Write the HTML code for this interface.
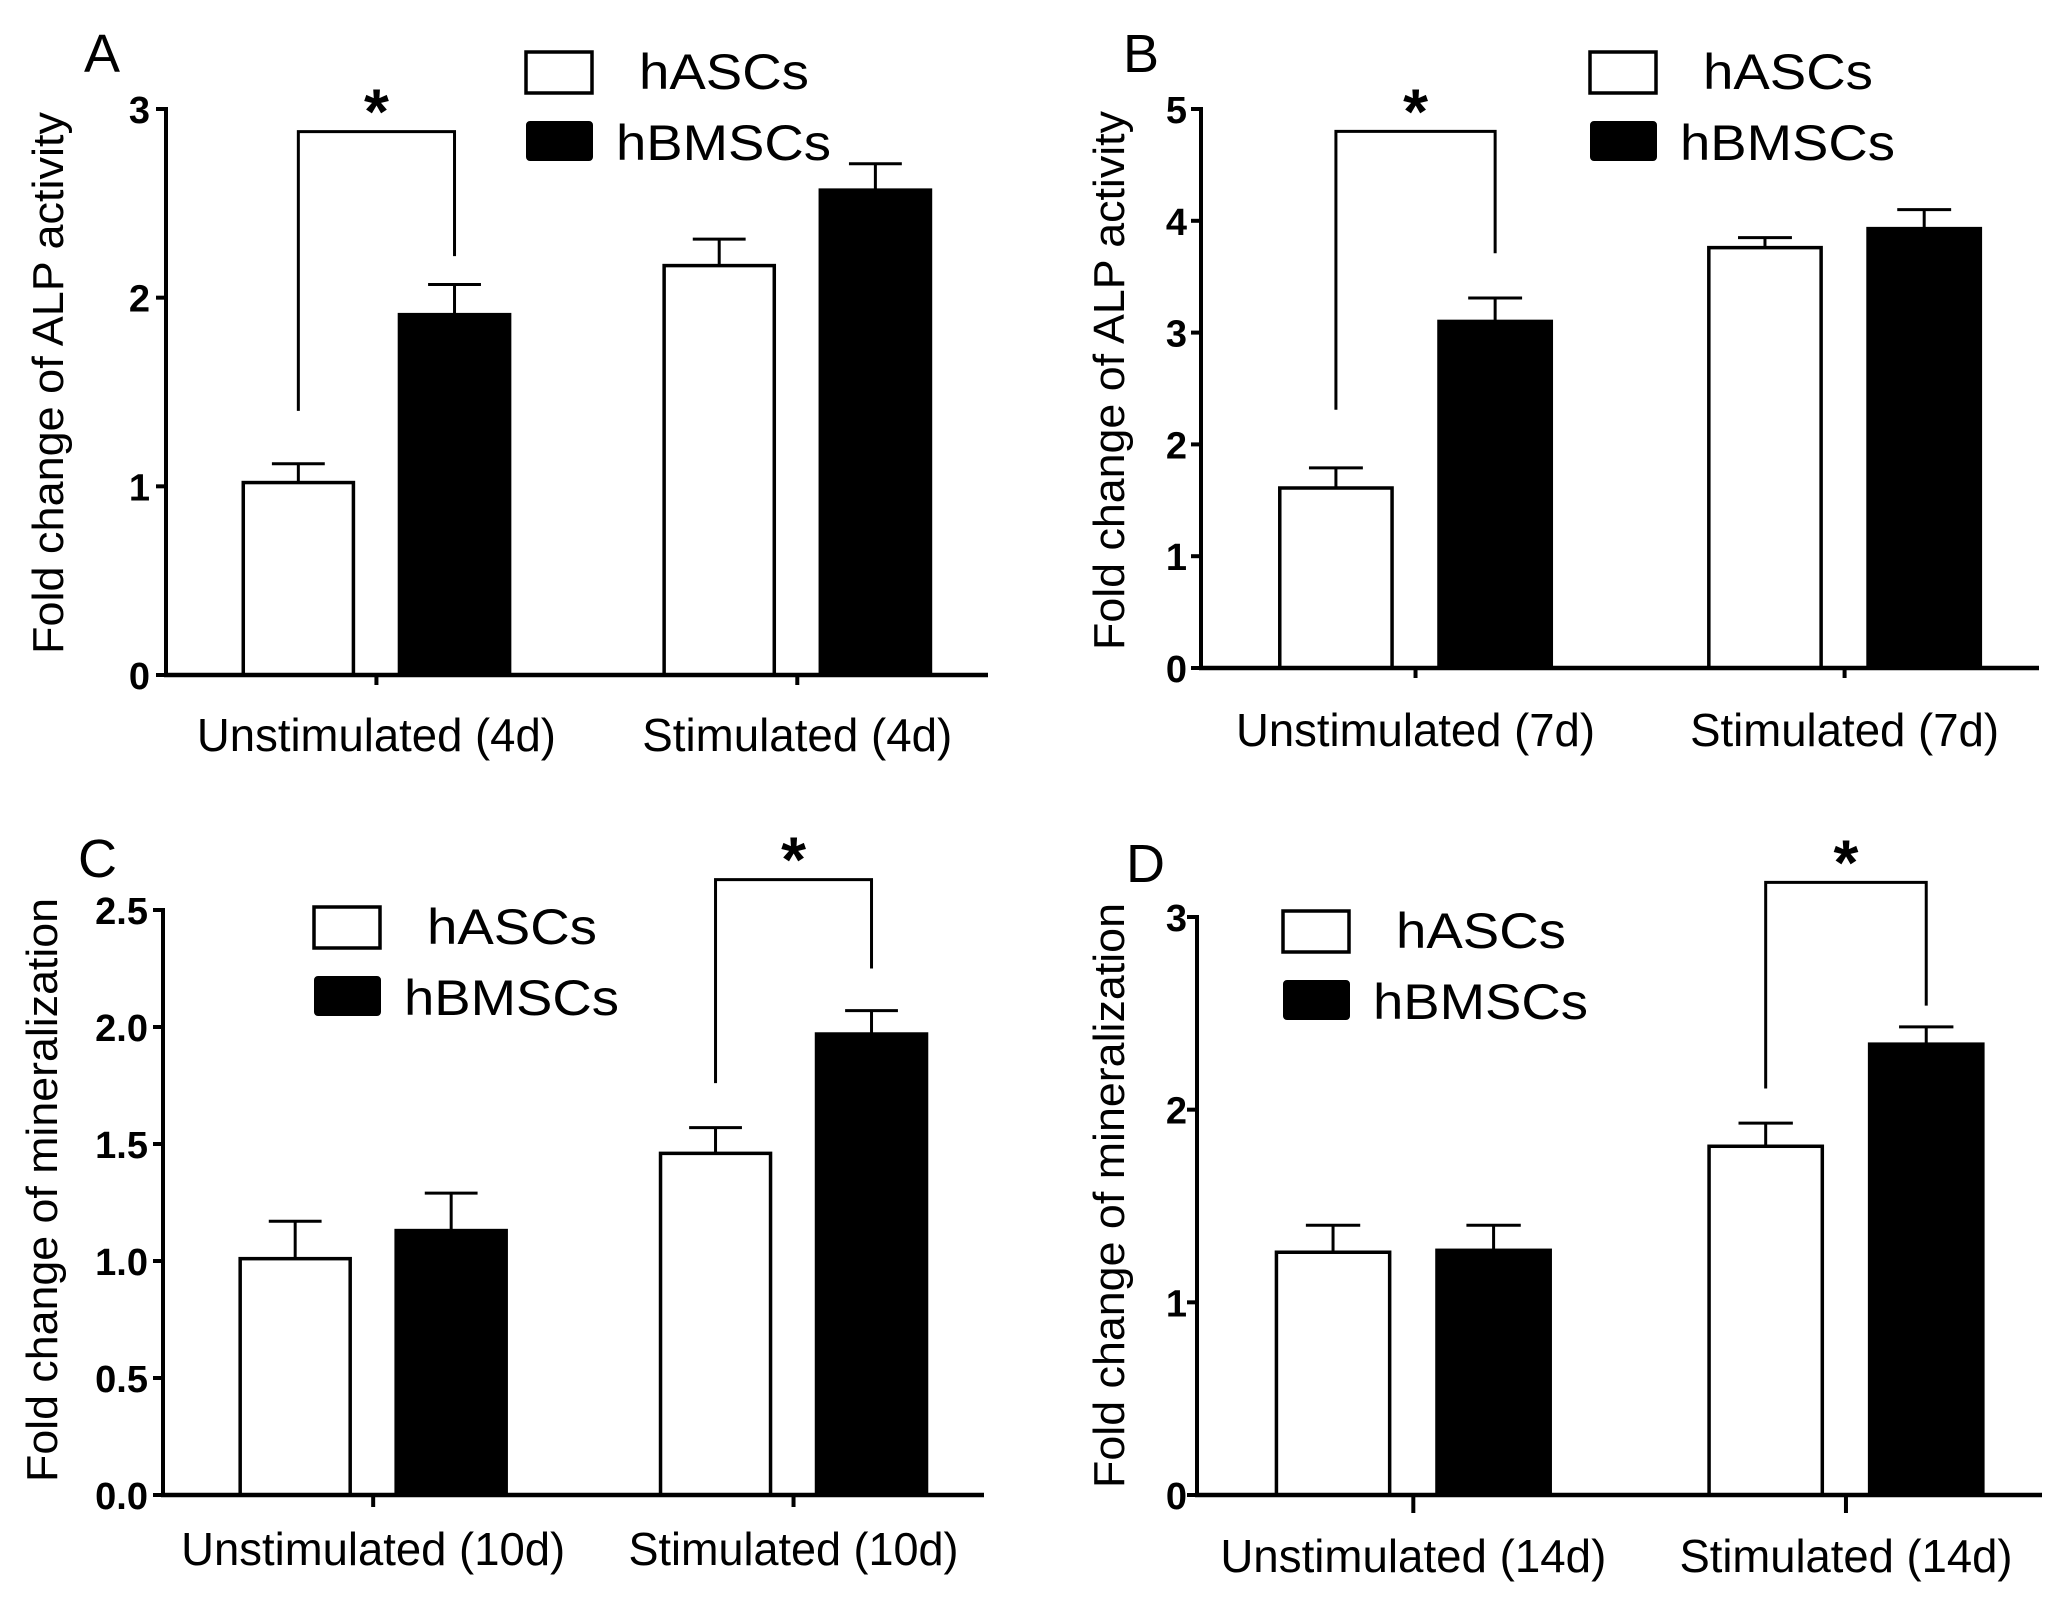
<!DOCTYPE html>
<html><head><meta charset="utf-8"><style>
html,body{margin:0;padding:0;background:#fff;}
svg{display:block;}
text{font-family:"Liberation Sans",Arial,sans-serif;fill:#000;}
</style></head><body>
<svg id="fig" width="2055" height="1606" viewBox="0 0 2055 1606" xmlns="http://www.w3.org/2000/svg"></svg>
<script>
// ---- data ----
const catsA = ["Unstimulated (4d)", "Stimulated (4d)"];
const hascA = [1.02, 2.17];
const hascErrA = [0.10, 0.14];
const hbmA = [1.91, 2.57];
const hbmErrA = [0.16, 0.14];
const ticksA = [0, 1, 2, 3];
const tickLabA = ["0", "1", "2", "3"];
const sigA = [0];
const sigLevelsA = [2.88, 1.40, 2.22]; // top, left end, right end

const catsB = ["Unstimulated (7d)", "Stimulated (7d)"];
const hascB = [1.61, 3.76];
const hascErrB = [0.18, 0.09];
const hbmB = [3.10, 3.93];
const hbmErrB = [0.21, 0.17];
const ticksB = [0, 1, 2, 3, 4, 5];
const tickLabB = ["0", "1", "2", "3", "4", "5"];
const sigB = [0];
const sigLevelsB = [4.80, 2.31, 3.71];

const catsC = ["Unstimulated (10d)", "Stimulated (10d)"];
const hascC = [1.01, 1.46];
const hascErrC = [0.16, 0.11];
const hbmC = [1.13, 1.97];
const hbmErrC = [0.16, 0.10];
const ticksC = [0, 0.5, 1, 1.5, 2, 2.5];
const tickLabC = ["0.0", "0.5", "1.0", "1.5", "2.0", "2.5"];
const sigC = [1];
const sigLevelsC = [2.63, 1.76, 2.25];

const catsD = ["Unstimulated (14d)", "Stimulated (14d)"];
const hascD = [1.26, 1.81];
const hascErrD = [0.14, 0.12];
const hbmD = [1.27, 2.34];
const hbmErrD = [0.13, 0.09];
const ticksD = [0, 1, 2, 3];
const tickLabD = ["0", "1", "2", "3"];
const sigD = [1];
const sigLevelsD = [3.18, 2.11, 2.54];

const NS = "http://www.w3.org/2000/svg";
const svg = document.getElementById("fig");
function mk(tag, attrs, parent) {
  const e = document.createElementNS(NS, tag);
  for (const k in attrs) e.setAttribute(k, attrs[k]);
  (parent || svg).appendChild(e);
  return e;
}

function panel(cfg, cats, hasc, hascErr, hbm, hbmErr, ticks, tickLab, sig, sigLv) {
  const g = mk("g", {});
  
  
  const ymax = ticks[ticks.length - 1];
  const yS = v => cfg.y0 - (cfg.y0 - cfg.yTop) * v / ymax;
  const W = cfg.xEnd - cfg.x0;
  const cx = i => cfg.x0 + W * (0.256 + 0.512 * i);
  const bw = W * 0.134, off = W * 0.095;

  const L = mk("text", {x: cfg.lx, y: cfg.ly, "font-size": 54}, g);
  L.textContent = cfg.letter;
  
  

  const yc = (cfg.ytTop + cfg.ytBot) / 2;
  const yt = mk("text", {x: cfg.ytx, y: yc, "font-size": 44, "text-anchor": "middle",
    transform: `rotate(-90 ${cfg.ytx} ${yc})`, textLength: cfg.ytBot - cfg.ytTop, lengthAdjust: "spacingAndGlyphs", dy: 16}, g);
  yt.textContent = cfg.ytitle;
  
  

  for (let i = 0; i < cats.length; i++) {
    const series = [[hasc, hascErr, -1, "#fff", "hascs"], [hbm, hbmErr, 1, "#000", "hbmscs"]];
    for (const [vals, errs, sgn, fill, nm] of series) {
      const c = cx(i) + sgn * off;
      const top = yS(vals[i]);
      const et = yS(vals[i] + errs[i]);
      const eb = mk("line", {x1: c, x2: c, y1: top, y2: et, stroke: "#000", "stroke-width": 3}, g);
      
      
      const cap = mk("line", {x1: c - bw * 0.24, x2: c + bw * 0.24, y1: et, y2: et, stroke: "#000", "stroke-width": 3}, g);
      
      
      const r = mk("rect", {x: c - bw / 2, y: top, width: bw, height: cfg.y0 - top, fill: fill, stroke: "#000", "stroke-width": 3.5}, g);
      
      
    }
    const tk = mk("line", {x1: cx(i), x2: cx(i), y1: cfg.y0, y2: cfg.y0 + cfg.tickLen, stroke: "#000", "stroke-width": 4}, g);
    
    
    const xl = mk("text", {x: cx(i), y: cfg.xlY, "font-size": 46, "text-anchor": "middle",
      textLength: cfg.xlW[i], lengthAdjust: "spacingAndGlyphs"}, g);
    xl.textContent = cats[i];
    
    
  }

  for (const i of sig) {
    const xl = cx(i) - off, xr = cx(i) + off;
    const topY = yS(sigLv[0]);
    const p = mk("polyline", {points: `${xl},${yS(sigLv[1])} ${xl},${topY} ${xr},${topY} ${xr},${yS(sigLv[2])}`,
      fill: "none", stroke: "#000", "stroke-width": 3}, g);
    
    
    const st = mk("text", {x: (xl + xr) / 2, y: topY + 2, "font-size": 64, "font-weight": "bold", "text-anchor": "middle"}, g);
    st.textContent = "*";
    
    
  }

  const ya = mk("line", {x1: cfg.x0, x2: cfg.x0, y1: cfg.yTop - 2, y2: cfg.y0 + 2, stroke: "#000", "stroke-width": 4}, g);
  
  
  const xa = mk("line", {x1: cfg.x0 - 2, x2: cfg.xEnd, y1: cfg.y0, y2: cfg.y0, stroke: "#000", "stroke-width": 4.5}, g);
  
  
  for (let k = 0; k < ticks.length; k++) {
    const y = yS(ticks[k]);
    const t = mk("line", {x1: cfg.x0 - 10, x2: cfg.x0, y1: y, y2: y, stroke: "#000", "stroke-width": 4}, g);
    
    
    const tl = mk("text", {x: cfg.tlx, y: y + 14, "font-size": 38, "font-weight": "bold", "text-anchor": "end"}, g);
    tl.textContent = tickLab[k];
    
    
  }

  const lw = mk("rect", {x: cfg.legX, y: cfg.legY, width: 66, height: 41, fill: "#fff", stroke: "#000", "stroke-width": 3.5}, g);
  
  
  const t1 = mk("text", {x: cfg.legX + 113, y: cfg.legY + 37, "font-size": 50, textLength: 170, lengthAdjust: "spacingAndGlyphs"}, g);
  t1.textContent = "hASCs";
  
  
  const lb = mk("rect", {x: cfg.legX + 1, y: cfg.legY + 70, width: 65, height: 38, rx: 3, fill: "#000", stroke: "#000", "stroke-width": 2}, g);
  
  
  const t2 = mk("text", {x: cfg.legX + 90, y: cfg.legY + 108, "font-size": 50, textLength: 215, lengthAdjust: "spacingAndGlyphs"}, g);
  t2.textContent = "hBMSCs";
  
  
}

panel({letter: "A", lx: 84, ly: 72, x0: 166, xEnd: 988, y0: 675, yTop: 109, tickLen: 10, tlx: 150,
  ytitle: "Fold change of ALP activity", ytx: 47, ytTop: 112, ytBot: 654, xlY: 751, xlW: [359, 310],
  legX: 526, legY: 52}, catsA, hascA, hascErrA, hbmA, hbmErrA, ticksA, tickLabA, sigA, sigLevelsA);

panel({letter: "B", lx: 1123, ly: 72, x0: 1201, xEnd: 2039, y0: 668, yTop: 109, tickLen: 10, tlx: 1187,
  ytitle: "Fold change of ALP activity", ytx: 1108, ytTop: 111, ytBot: 650, xlY: 746, xlW: [359, 309],
  legX: 1590, legY: 52}, catsB, hascB, hascErrB, hbmB, hbmErrB, ticksB, tickLabB, sigB, sigLevelsB);

panel({letter: "C", lx: 78, ly: 877, x0: 163, xEnd: 984, y0: 1495, yTop: 910, tickLen: 12, tlx: 148,
  ytitle: "Fold change of mineralization", ytx: 41, ytTop: 898, ytBot: 1482, xlY: 1565, xlW: [384, 330],
  legX: 314, legY: 907}, catsC, hascC, hascErrC, hbmC, hbmErrC, ticksC, tickLabC, sigC, sigLevelsC);

panel({letter: "D", lx: 1126, ly: 882, x0: 1197, xEnd: 2042, y0: 1495, yTop: 917, tickLen: 18, tlx: 1187,
  ytitle: "Fold change of mineralization", ytx: 1108, ytTop: 903, ytBot: 1488, xlY: 1572, xlW: [386, 333],
  legX: 1283, legY: 911}, catsD, hascD, hascErrD, hbmD, hbmErrD, ticksD, tickLabD, sigD, sigLevelsD);
</script>
</body></html>
